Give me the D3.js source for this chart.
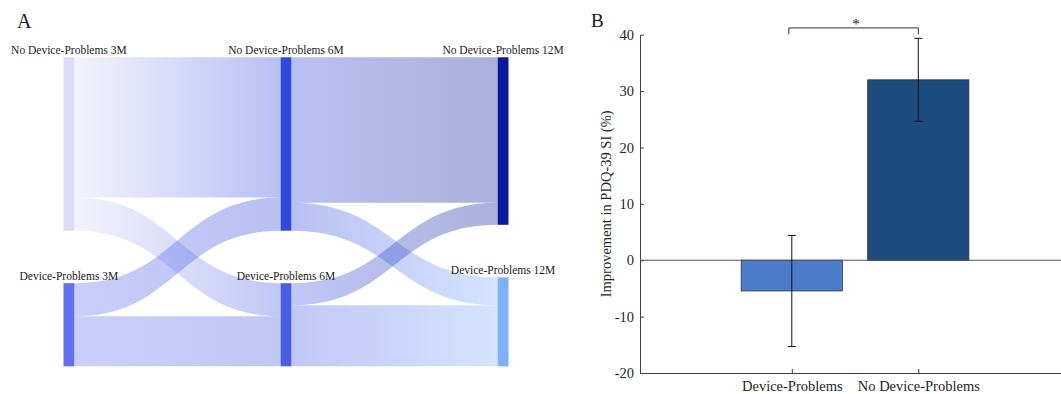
<!DOCTYPE html>
<html>
<head>
<meta charset="utf-8">
<script src="https://cdn.jsdelivr.net/npm/d3@7"></script>
<style>
  body { margin: 0; background: #fff; }
  svg { display: block; font-family: "Liberation Serif", "Times New Roman", serif; }
</style>
</head>
<body>
<div id="chart"></div>
<script>
// ---- data ----
const stages = ['3M', '6M', '12M'];
const states = ['No Device-Problems', 'Device-Problems'];
// node colours, [stage][state]
const nodeColors = [
  ['#dcdcf8', '#6070ee'],
  ['#3048dc', '#4a5ce4'],
  ['#0a1a98', '#80b0fc']
];
// patient share (%) moving between states, [from state][to state]
const flows3to6 = [[54.7, 12.9], [12.9, 19.5]];
const flows6to12 = [[56.7, 10.9], [8.6, 23.8]];

const groups = ['Device-Problems', 'No Device-Problems'];
const improvement = [-5.45, 32.0];
const improvementErr = [9.85, 7.35];
const yTicks = [-20, -10, 0, 10, 20, 30, 40];
const barColors = ['#4b7dcb', '#1b4c7d'];

const width = 1061, height = 394;
const svg = d3.select('#chart').append('svg')
  .attr('width', width)
  .attr('height', height);

// ================= panel A : sankey =================
const flowSets = [flows3to6, flows6to12];
const nodeW = 10.8, topY = 57.3, gap = 52.5;
const colX = d3.scalePoint().domain(stages).range([63.5, 497.7]);
const vy = d3.scaleLinear().domain([0, 100]).range([0, 256.5]);

// node values per stage
const nodeVals = stages.map(function(s, i) {
  if (i === 0) return flows3to6.map(r => d3.sum(r));
  const f = flowSets[i - 1];
  return [f[0][0] + f[1][0], f[0][1] + f[1][1]];
});

const nodes = [];
stages.forEach(function(s, i) {
  let yy = topY;
  nodeVals[i].forEach(function(v, j) {
    nodes.push({stage: i, state: j, x0: colX(s), x1: colX(s) + nodeW,
      y0: yy, y1: yy + vy(v), color: nodeColors[i][j],
      label: states[j] + ' ' + s});
    yy += vy(v) + gap;
  });
});
const nodeAt = (i, j) => nodes.find(n => n.stage === i && n.state === j);

const links = [];
flowSets.forEach(function(f, i) {
  const outOff = [0, 0], inOff = [0, 0];
  for (let a = 0; a < 2; a++) {
    for (let b = 0; b < 2; b++) {
      const src = nodeAt(i, a), tgt = nodeAt(i + 1, b);
      const h = vy(f[a][b]);
      links.push({src: src, tgt: tgt,
        sy0: src.y0 + outOff[a], sy1: src.y0 + outOff[a] + h,
        ty0: tgt.y0 + inOff[b], ty1: tgt.y0 + inOff[b] + h});
      outOff[a] += h; inOff[b] += h;
    }
  }
});

function band(d) {
  const x0 = d.src.x1, x1 = d.tgt.x0, xm = (x0 + x1) / 2;
  const p = d3.path();
  p.moveTo(x0, d.sy0);
  p.bezierCurveTo(xm, d.sy0, xm, d.ty0, x1, d.ty0);
  p.lineTo(x1, d.ty1);
  p.bezierCurveTo(xm, d.ty1, xm, d.sy1, x0, d.sy1);
  p.closePath();
  return p.toString();
}

const defs = svg.append('defs');
links.forEach(function(d, k) {
  const g = defs.append('linearGradient')
    .attr('id', 'lg' + k)
    .attr('gradientUnits', 'userSpaceOnUse')
    .attr('x1', d.src.x1).attr('x2', d.tgt.x0)
    .attr('y1', 0).attr('y2', 0);
  g.append('stop').attr('offset', '0%').attr('stop-color', d.src.color);
  g.append('stop').attr('offset', '100%').attr('stop-color', d.tgt.color);
});

const gA = svg.append('g');
gA.selectAll('path.link')
  .data(links)
  .enter().append('path')
  .attr('class', 'link')
  .attr('d', band)
  .attr('fill', (d, k) => 'url(#lg' + k + ')')
  .attr('fill-opacity', 0.34);

gA.selectAll('rect.node')
  .data(nodes)
  .enter().append('rect')
  .attr('class', 'node')
  .attr('x', d => d.x0)
  .attr('y', d => d.y0)
  .attr('width', nodeW)
  .attr('height', d => d.y1 - d.y0)
  .attr('fill', d => d.color);

gA.selectAll('text.nlabel')
  .data(nodes)
  .enter().append('text')
  .attr('class', 'nlabel')
  .attr('x', d => (d.x0 + d.x1) / 2)
  .attr('y', d => d.y0 - 3.5)
  .attr('text-anchor', 'middle')
  .attr('font-size', 11.5)
  .attr('fill', '#1a1a1a')
  .text(d => d.label);

svg.append('text')
  .attr('x', 17).attr('y', 28)
  .attr('font-size', 20)
  .attr('fill', '#1a1a1a')
  .text('A');

// ================= panel B : bar chart =================
const x = d3.scaleLinear().domain([-0.2, 3.2]).range([640, 1070.1]);
const y = d3.scaleLinear().domain([-20, 40]).range([373, 34.7]);
const barW = 0.8;
const gB = svg.append('g');

// y axis
gB.append('g')
  .attr('transform', 'translate(640,0)')
  .call(d3.axisLeft(y).tickValues(yTicks).tickFormat(d => String(d))
    .tickSize(-4).tickSizeOuter(0).tickPadding(6))
  .call(g => g.selectAll('text').attr('font-size', 14.5).attr('fill', '#262626')
    .attr('font-family', '"Liberation Serif", "Times New Roman", serif'))
  .call(g => g.selectAll('line, path').attr('stroke', '#404040'));

// x axis
gB.append('g')
  .attr('transform', 'translate(0,' + y(-20) + ')')
  .call(d3.axisBottom(x).tickValues([1, 2]).tickFormat((d, i) => groups[i])
    .tickSize(-4).tickSizeOuter(0).tickPadding(7.7))
  .call(g => g.selectAll('text').attr('font-size', 14.5).attr('fill', '#262626')
    .attr('font-family', '"Liberation Serif", "Times New Roman", serif'))
  .call(g => g.selectAll('line, path').attr('stroke', '#404040'));

// bars
gB.selectAll('rect.bar')
  .data(improvement)
  .enter().append('rect')
  .attr('class', 'bar')
  .attr('x', (d, i) => x(i + 1 - barW / 2))
  .attr('width', x(barW) - x(0))
  .attr('y', d => y(Math.max(0, d)))
  .attr('height', d => Math.abs(y(d) - y(0)))
  .attr('fill', (d, i) => barColors[i])
  .attr('stroke', '#333')
  .attr('stroke-width', 0.8);

// zero line
gB.append('line')
  .attr('x1', 640).attr('x2', width)
  .attr('y1', y(0)).attr('y2', y(0))
  .attr('stroke', '#555').attr('stroke-width', 1);

// error bars
const capW = 4;
const eb = gB.selectAll('g.err')
  .data(improvement)
  .enter().append('g')
  .attr('class', 'err')
  .attr('stroke', '#111').attr('stroke-width', 1);
eb.append('line')
  .attr('x1', (d, i) => x(i + 1)).attr('x2', (d, i) => x(i + 1))
  .attr('y1', (d, i) => y(d + improvementErr[i]))
  .attr('y2', (d, i) => y(d - improvementErr[i]));
eb.append('line')
  .attr('x1', (d, i) => x(i + 1) - capW).attr('x2', (d, i) => x(i + 1) + capW)
  .attr('y1', (d, i) => y(d + improvementErr[i]))
  .attr('y2', (d, i) => y(d + improvementErr[i]));
eb.append('line')
  .attr('x1', (d, i) => x(i + 1) - capW).attr('x2', (d, i) => x(i + 1) + capW)
  .attr('y1', (d, i) => y(d - improvementErr[i]))
  .attr('y2', (d, i) => y(d - improvementErr[i]));

// significance bracket
const brY = 41.2, brLeg = 40.05;
gB.append('path')
  .attr('d', d3.line()([[x(1) - 3, y(brLeg)], [x(1) - 3, y(brY)], [x(2), y(brY)], [x(2), y(brLeg)]]))
  .attr('fill', 'none').attr('stroke', '#333').attr('stroke-width', 1);
gB.append('text')
  .attr('x', (x(1) + x(2)) / 2 + 1).attr('y', y(brY) + 1.5)
  .attr('text-anchor', 'middle')
  .attr('font-size', 15)
  .attr('fill', '#222')
  .text('*');

// y label
gB.append('text')
  .attr('transform', 'translate(610.5,' + (y(-20) + y(40)) / 2 + ') rotate(-90)')
  .attr('text-anchor', 'middle')
  .attr('font-size', 14.5)
  .attr('fill', '#262626')
  .text('Improvement in PDQ-39 SI (%)');

svg.append('text')
  .attr('x', 591).attr('y', 26.7)
  .attr('font-size', 19)
  .attr('fill', '#1a1a1a')
  .text('B');
</script>
</body>
</html>
